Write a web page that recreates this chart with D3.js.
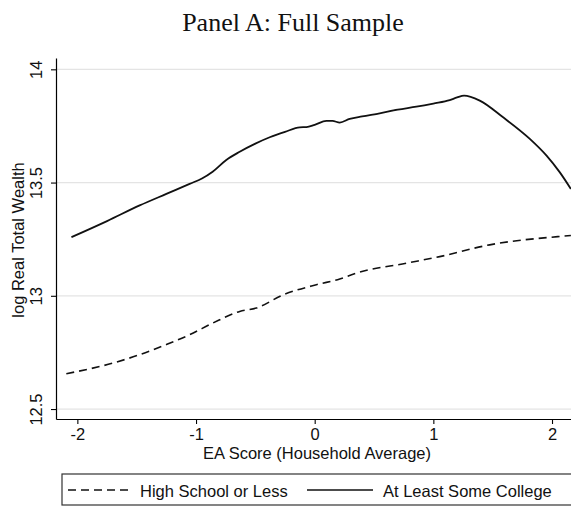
<!DOCTYPE html>
<html>
<head>
<meta charset="utf-8">
<script src="https://cdn.jsdelivr.net/npm/d3@7"></script>
<style>
  body { margin: 0; background: #fff; }
  svg { display: block; }
</style>
</head>
<body>
<div id="chart"></div>
<script>
// EA score (x) and log real total wealth (y)
var collegeX = [-2.05, -1.75, -1.475, -1.25, -1.054, -0.95, -0.86, -0.745, -0.632, -0.5, -0.379, -0.25, -0.126, -0.07, 0.0, 0.099, 0.15, 0.211, 0.295, 0.4, 0.548, 0.7, 0.857, 1.0, 1.138, 1.2, 1.259, 1.391, 1.588, 1.813, 1.954, 2.066, 2.159];
var collegeY = [13.259, 13.33, 13.399, 13.45, 13.494, 13.518, 13.548, 13.600, 13.636, 13.672, 13.700, 13.724, 13.744, 13.745, 13.755, 13.772, 13.772, 13.765, 13.781, 13.792, 13.806, 13.822, 13.835, 13.849, 13.864, 13.876, 13.884, 13.862, 13.788, 13.693, 13.619, 13.545, 13.472];

var hsX = [-2.093, -1.70, -1.475, -1.25, -1.054, -0.857, -0.632, -0.492, -0.267, 0.014, 0.211, 0.351, 0.773, 1.054, 1.475, 2.066, 2.159];
var hsY = [12.656, 12.703, 12.740, 12.785, 12.828, 12.880, 12.931, 12.946, 13.004, 13.049, 13.074, 13.100, 13.144, 13.173, 13.225, 13.262, 13.266];

var xTicks = [-2, -1, 0, 1, 2];
var yTicks = [12.5, 13, 13.5, 14];
var seriesNames = ["High School or Less", "At Least Some College"];

var width = 571, height = 506;
var margin = {top: 58, right: 0, bottom: 87, left: 56};
var plotW = width - margin.left - margin.right,
    plotH = height - margin.top - margin.bottom;
var sans = "'Liberation Sans', Arial, sans-serif";

var svg = d3.select("#chart").append("svg")
  .attr("width", width)
  .attr("height", height);

svg.append("text")
  .attr("x", 293)
  .attr("y", 31)
  .attr("text-anchor", "middle")
  .style("font-family", "'Liberation Serif', serif")
  .style("font-size", "26px")
  .attr("fill", "#111")
  .text("Panel A: Full Sample");

var g = svg.append("g")
  .attr("transform", "translate(" + margin.left + "," + margin.top + ")");

var xScale = d3.scaleLinear().domain([-2.18, 2.16]).range([0, plotW]);
var yScale = d3.scaleLinear().domain([12.456, 14.05]).range([plotH, 0]);

// gridlines
g.selectAll(".grid")
  .data(yTicks)
  .enter().append("line")
  .attr("class", "grid")
  .attr("x1", 0).attr("x2", plotW)
  .attr("y1", function(d) { return yScale(d); })
  .attr("y2", function(d) { return yScale(d); })
  .attr("stroke", "#e4e4e4")
  .attr("stroke-width", 1.2);

var xAxis = g.append("g")
  .attr("transform", "translate(0," + plotH + ")")
  .call(d3.axisBottom(xScale).tickValues(xTicks).tickSize(5).tickSizeOuter(0)
    .tickFormat(function(d) { return String(d); }));

var yAxis = g.append("g")
  .call(d3.axisLeft(yScale).tickValues(yTicks).tickSize(5).tickSizeOuter(0)
    .tickFormat(function(d) { return String(d); }));

[xAxis, yAxis].forEach(function(a) {
  a.select(".domain").attr("stroke", "#000").attr("stroke-width", 1.2);
  a.selectAll(".tick line").attr("stroke", "#000").attr("stroke-width", 1.1);
  a.selectAll("text")
    .style("font-family", sans)
    .style("font-size", "16.5px")
    .attr("fill", "#111");
});

xAxis.selectAll("text").attr("y", 9).attr("dy", "0.71em");

yAxis.selectAll(".tick text")
  .attr("x", null).attr("dy", null)
  .attr("text-anchor", "middle")
  .attr("transform", "translate(-14,0) rotate(-90)");

svg.append("text")
  .attr("transform", "translate(24,240) rotate(-90)")
  .attr("text-anchor", "middle")
  .style("font-family", sans)
  .style("font-size", "16.5px")
  .attr("fill", "#111")
  .text("log Real Total Wealth");

svg.append("text")
  .attr("x", 317)
  .attr("y", 459)
  .attr("text-anchor", "middle")
  .style("font-family", sans)
  .style("font-size", "16.5px")
  .attr("fill", "#111")
  .text("EA Score (Household Average)");

var line = d3.line()
  .x(function(d) { return xScale(d[0]); })
  .y(function(d) { return yScale(d[1]); })
  .curve(d3.curveMonotoneX);

var hsData = hsX.map(function(x, i) { return [x, hsY[i]]; });
var colData = collegeX.map(function(x, i) { return [x, collegeY[i]]; });

g.append("path")
  .datum(hsData)
  .attr("d", line)
  .attr("fill", "none")
  .attr("stroke", "#111")
  .attr("stroke-width", 1.6)
  .attr("stroke-dasharray", "8,5");

g.append("path")
  .datum(colData)
  .attr("d", line)
  .attr("fill", "none")
  .attr("stroke", "#111")
  .attr("stroke-width", 1.8);

// legend
var legend = svg.append("g");
legend.append("rect")
  .attr("x", 62).attr("y", 474)
  .attr("width", 520).attr("height", 31)
  .attr("fill", "#fff")
  .attr("stroke", "#333")
  .attr("stroke-width", 1.2);

var legItems = [
  {x1: 68, x2: 132, tx: 140, dash: "8,5"},
  {x1: 307, x2: 373, tx: 383, dash: null}
];
legItems.forEach(function(it, i) {
  legend.append("line")
    .attr("x1", it.x1).attr("x2", it.x2)
    .attr("y1", 490).attr("y2", 490)
    .attr("stroke", "#111")
    .attr("stroke-width", 1.5)
    .attr("stroke-dasharray", it.dash);
  legend.append("text")
    .attr("x", it.tx).attr("y", 496.5)
    .style("font-family", sans)
    .style("font-size", "16.5px")
    .attr("fill", "#111")
    .text(seriesNames[i]);
});
</script>
</body>
</html>
